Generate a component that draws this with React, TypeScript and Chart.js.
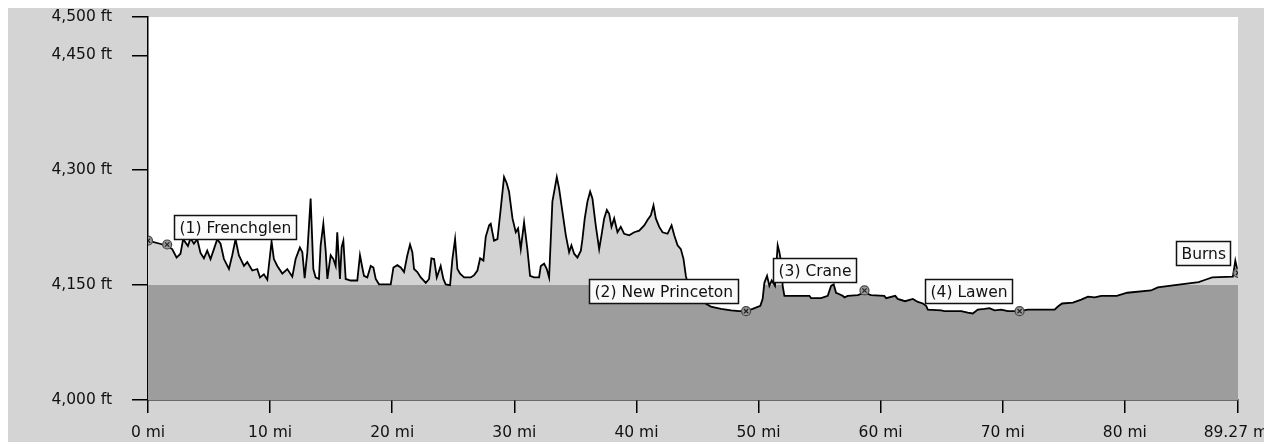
import React, { useEffect, useRef } from 'react';
import { Chart, registerables } from 'chart.js';

Chart.register(...registerables);

// Route profile: distance (mi) and elevation (ft)
const miles = [
  0, 1.2, 1.57, 1.98, 2.34, 2.66, 2.88, 3.27, 3.48, 3.76, 4.03, 4.3, 4.58, 4.85, 5.12, 5.4, 5.67, 5.94,
  6.22, 6.63, 6.9, 7.17, 7.44, 7.86, 8.13, 8.54, 8.95, 9.17, 9.49, 9.77, 10.12, 10.31, 10.59, 11.0,
  11.41, 11.82, 12.09, 12.44, 12.64, 12.83, 13.05, 13.32, 13.54, 13.73, 14.0, 14.14, 14.36, 14.55,
  14.69, 14.96, 15.18, 15.37, 15.5, 15.72, 15.86, 16.0, 16.19, 16.6, 17.14, 17.36, 17.55, 17.69,
  17.96, 18.24, 18.46, 18.65, 18.92, 19.88, 20.1, 20.42, 20.7, 20.97, 21.24, 21.46, 21.65, 21.79,
  22.06, 22.34, 22.75, 23.02, 23.21, 23.43, 23.65, 23.97, 24.19, 24.38, 24.74, 24.93, 25.15, 25.34,
  25.56, 25.89, 26.43, 26.71, 26.98, 27.2, 27.47, 27.66, 27.94, 28.07, 28.34, 28.62, 28.89, 29.16,
  29.38, 29.57, 29.85, 30.12, 30.31, 30.53, 30.8, 31.07, 31.29, 31.62, 32.03, 32.17, 32.44, 32.66,
  32.85, 33.12, 33.48, 33.67, 33.94, 34.22, 34.49, 34.68, 34.9, 35.17, 35.45, 35.58, 35.77, 35.99,
  36.21, 36.4, 36.67, 36.95, 37.14, 37.36, 37.58, 37.77, 37.96, 38.18, 38.45, 38.72, 39.0, 39.41,
  39.82, 40.23, 40.64, 40.91, 41.18, 41.4, 41.59, 41.87, 42.14, 42.55, 42.88, 43.1, 43.37, 43.64,
  43.86, 44.05, 44.2, 44.6, 45.0, 45.56, 46.1, 46.93, 47.75, 48.43, 48.98, 49.52, 50.15, 50.34,
  50.48, 50.7, 50.89, 51.08, 51.35, 51.57, 51.71, 51.85, 51.98, 52.12, 54.17, 54.3, 55.12, 55.67,
  55.94, 56.16, 56.35, 56.63, 56.9, 57.04, 57.31, 58.13, 58.68, 59.22, 60.3, 60.45, 61.2, 61.4, 62.0,
  62.64, 63.05, 63.46, 63.73, 63.87, 64.96, 65.23, 66.6, 67.14, 67.55, 67.96, 68.51, 68.92, 69.33,
  69.88, 70.42, 71.38, 72.06, 74.25, 74.52, 74.86, 75.75, 76.43, 76.98, 77.53, 78.07, 79.34, 80.2,
  82.14, 82.7, 84.1, 86.05, 86.6, 87.16, 88.85, 89.05, 89.27,
];

const elevationFt = [
  4208, 4203, 4201, 4197, 4186, 4191, 4210, 4201, 4211, 4204, 4210, 4192, 4185, 4195, 4184, 4197, 4210, 4204,
  4184, 4171, 4189, 4210, 4189, 4175, 4180, 4169, 4171, 4160, 4164, 4157, 4207, 4184, 4175, 4165,
  4171, 4161, 4184, 4199, 4193, 4159, 4193, 4263, 4171, 4160, 4158, 4202, 4230, 4195,
  4158, 4189, 4184, 4175, 4219, 4158, 4200, 4208, 4158, 4156, 4156, 4189, 4173, 4162,
  4160, 4175, 4173, 4158, 4151, 4151, 4173, 4176, 4173, 4167, 4189, 4203, 4193, 4171,
  4167, 4160, 4153, 4158, 4185, 4184, 4160, 4175, 4158, 4151, 4150, 4184, 4210, 4171,
  4165, 4160, 4160, 4163, 4169, 4185, 4182, 4213, 4228, 4230, 4208, 4210, 4250, 4291,
  4283, 4272, 4237, 4219, 4224, 4197, 4232, 4197, 4162, 4160, 4160, 4175, 4178, 4171,
  4160, 4259, 4291, 4276, 4246, 4215, 4193, 4202, 4191, 4186, 4195, 4210, 4237, 4259,
  4272, 4263, 4228, 4197, 4215, 4237, 4248, 4243, 4226, 4237, 4219, 4226, 4217, 4215,
  4219, 4221, 4228, 4235, 4241, 4254, 4237, 4226, 4219, 4217, 4228, 4215, 4202, 4197,
  4184, 4162, 4152, 4140, 4133, 4127, 4122, 4119, 4117, 4116, 4116, 4119, 4123, 4132,
  4153, 4162, 4149, 4156, 4149, 4202, 4193, 4180, 4149, 4136, 4136, 4133, 4133, 4136,
  4149, 4151, 4140, 4138, 4136, 4134, 4136, 4137, 4140, 4137, 4136, 4133, 4136, 4132, 4129,
  4132, 4128, 4126, 4123, 4118, 4117, 4116, 4116, 4114, 4113, 4118, 4119, 4120, 4117,
  4118, 4116, 4116, 4118, 4118, 4122, 4126, 4127, 4131, 4135, 4134, 4136, 4136, 4140,
  4143, 4147, 4150, 4154, 4157, 4160, 4161, 4182, 4166,
];

const baseFt = 4150;

const yTickValues = [4000, 4150, 4300, 4450, 4500];
const xTickValues = [0, 10, 20, 30, 40, 50, 60, 70, 80, 89.27];

const waypointMiles = [0, 1.57, 48.98, 58.68, 71.38, 89.27];
const waypointFt = [4208, 4203, 4116, 4143, 4116, 4166];
const waypointLabels = ['', '(1) Frenchglen', '(2) New Princeton', '(3) Crane', '(4) Lawen', 'Burns'];
const waypointSides = ['', 'right', 'left', 'left', 'left', 'left'];

const FONT = '"DejaVu Sans", "Liberation Sans", sans-serif';

export default function App() {
  const ref = useRef<HTMLCanvasElement | null>(null);

  useEffect(() => {
    document.body.style.overflow = 'hidden';
    const canvas = ref.current;
    if (!canvas) return;

    const profile = miles.map((m, i) => ({ x: m, y: elevationFt[i] }));
    const clamped = miles.map((m, i) => ({ x: m, y: Math.min(elevationFt[i], baseFt) }));
    const waypoints = waypointMiles.map((m, i) => ({ x: m, y: waypointFt[i] }));

    const backgroundPlugin = {
      id: 'bg',
      beforeDraw(chart: any) {
        const { ctx, chartArea, width, height } = chart;
        ctx.save();
        ctx.fillStyle = '#d4d4d4';
        ctx.fillRect(0, 0, width, height);
        ctx.fillStyle = '#ffffff';
        ctx.fillRect(chartArea.left, chartArea.top, chartArea.right - chartArea.left, chartArea.bottom - chartArea.top);
        ctx.restore();
      },
    };

    const labelPlugin = {
      id: 'wpLabels',
      afterDatasetsDraw(chart: any) {
        const { ctx } = chart;
        const xs = chart.scales.x;
        const ys = chart.scales.y;
        ctx.save();
        ctx.font = `15.5px ${FONT}`;
        ctx.textBaseline = 'middle';
        ctx.textAlign = 'left';
        waypointLabels.forEach((label, i) => {
          if (!label) return;
          const px = xs.getPixelForValue(waypointMiles[i]);
          const py = ys.getPixelForValue(waypointFt[i]);
          const w = Math.round(ctx.measureText(label).width + 10);
          const h = 24;
          let bx: number;
          let by: number;
          if (waypointSides[i] === 'right') {
            bx = px + 7;
            by = py - 6 - h;
          } else {
            bx = px - 8 - w;
            by = py - 8 - h;
          }
          bx = Math.round(bx) + 0.5;
          by = Math.round(by) + 0.5;
          ctx.fillStyle = '#fafafa';
          ctx.fillRect(bx, by, w, h);
          ctx.strokeStyle = '#111';
          ctx.lineWidth = 1.5;
          ctx.strokeRect(bx, by, w, h);
          ctx.fillStyle = '#111';
          ctx.fillText(label, bx + 5, by + h / 2 + 1);
        });
        ctx.restore();
      },
    };

    const chart = new Chart(canvas, {
      type: 'line',
      data: {
        datasets: [
          {
            label: 'markers-x',
            data: waypoints,
            showLine: false,
            pointStyle: 'crossRot',
            pointRadius: 3,
            borderColor: '#222',
            borderWidth: 1.2,
            backgroundColor: '#222',
            order: -2,
          },
          {
            label: 'markers',
            data: waypoints,
            showLine: false,
            pointStyle: 'circle',
            pointRadius: 4.5,
            borderColor: '#444',
            borderWidth: 1.2,
            backgroundColor: '#9a9a9a',
            order: -1,
          },
          {
            label: 'profile',
            data: profile,
            borderColor: '#000',
            borderWidth: 1.8,
            pointRadius: 0,
            fill: false,
            tension: 0,
            order: 0,
          },
          {
            label: 'below',
            data: clamped,
            borderWidth: 0,
            borderColor: 'rgba(0,0,0,0)',
            backgroundColor: '#9d9d9d',
            pointRadius: 0,
            fill: 'origin',
            tension: 0,
            order: 1,
          },
          {
            label: 'above',
            data: profile,
            borderWidth: 0,
            borderColor: 'rgba(0,0,0,0)',
            backgroundColor: '#d3d3d3',
            pointRadius: 0,
            fill: 'origin',
            tension: 0,
            order: 2,
          },
        ],
      },
      options: {
        animation: false,
        responsive: false,
        maintainAspectRatio: false,
        events: [],
        layout: { padding: { top: 9, right: 34, left: 0, bottom: 0 } },
        plugins: {
          legend: { display: false },
          tooltip: { enabled: false },
        },
        scales: {
          x: {
            type: 'linear',
            min: 0,
            max: 89.27,
            afterBuildTicks: (s: any) => {
              s.ticks = xTickValues.map((v) => ({ value: v }));
            },
            afterFit: (s: any) => {
              s.height = 42;
              s.paddingLeft = 0;
              s.paddingRight = 0;
            },
            ticks: {
              autoSkip: false,
              maxRotation: 0,
              padding: 11,
              color: '#111',
              font: { family: FONT, size: 15.5 },
              callback: (v: any) => `${v} mi`,
            },
            grid: {
              drawOnChartArea: false,
              drawTicks: true,
              tickLength: 13,
              color: '#000',
              lineWidth: 1.5,
            },
            border: { display: true, color: '#000', width: 1.5 },
          },
          y: {
            type: 'linear',
            min: 4000,
            max: 4500,
            afterBuildTicks: (s: any) => {
              s.ticks = yTickValues.map((v) => ({ value: v }));
            },
            afterFit: (s: any) => {
              s.width = 140;
              s.paddingTop = 0;
              s.paddingBottom = 0;
            },
            ticks: {
              autoSkip: false,
              padding: 20,
              color: '#111',
              font: { family: FONT, size: 15.5 },
              callback: (v: any) => `${Number(v).toLocaleString('en-US')} ft`,
            },
            grid: {
              drawOnChartArea: false,
              drawTicks: true,
              tickLength: 16,
              color: '#000',
              lineWidth: 1.5,
            },
            border: { display: true, color: '#000', width: 1.5 },
          },
        },
      },
      plugins: [backgroundPlugin, labelPlugin],
    } as any);

    return () => {
      chart.destroy();
    };
  }, []);

  return (
    <div style={{ width: 1264, height: 434 }}>
      <canvas ref={ref} width={1264} height={434} style={{ display: 'block', width: 1264, height: 434 }} />
    </div>
  );
}
